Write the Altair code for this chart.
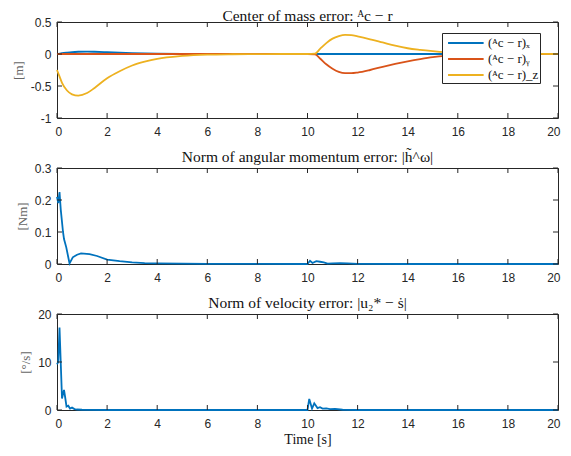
import altair as alt
import pandas as pd

# ---------------- data ----------------
t_com = [0, 0.1, 0.2, 0.4, 0.6, 0.85, 1.2, 1.5, 2, 2.5, 3, 3.5, 4, 5, 6, 7, 8, 9, 10,
         10.3, 10.5, 10.75, 11, 11.25, 11.5, 11.75, 12, 12.5, 13, 13.5, 14, 14.5, 15,
         15.5, 16, 17, 18, 19, 20]
com_x = [0, 0.005, 0.012, 0.022, 0.03, 0.035, 0.037, 0.035, 0.028, 0.02, 0.013, 0.008,
         0.005, 0.002, 0.001, 0, 0, 0, 0,
         0, 0, 0, 0, 0, 0, 0, 0, 0, 0, 0, 0, 0, 0,
         0, 0, 0, 0, 0, 0]
com_y = [0, 0, 0, 0, 0, 0, 0, 0, 0, 0, 0, 0, 0, 0, 0, 0, 0, 0, 0,
         -0.005, -0.07, -0.16, -0.23, -0.28, -0.30, -0.30, -0.29, -0.25, -0.20, -0.155,
         -0.115, -0.08, -0.05, -0.03, -0.02, -0.008, -0.003, -0.001, 0]
com_z = [-0.25, -0.35, -0.45, -0.57, -0.63, -0.65, -0.61, -0.53, -0.38, -0.27, -0.18,
         -0.12, -0.075, -0.03, -0.01, -0.004, -0.002, 0, 0,
         0.005, 0.08, 0.17, 0.24, 0.28, 0.30, 0.295, 0.275, 0.23, 0.18, 0.13, 0.09,
         0.065, 0.045, 0.028, 0.016, 0.006, 0.002, 0.001, 0]
com_names = ["(ᴬc − r)ₓ", "(ᴬc − r)ᵧ", "(ᴬc − r)_z"]
com_colors = ["#0072BD", "#D95319", "#EDB120"]

t_h = [0, 0.05, 0.1, 0.15, 0.24, 0.28, 0.37, 0.44, 0.5, 0.63, 0.8, 0.96, 1.3, 1.6, 2.0,
       2.5, 3, 3.5, 4, 5, 6, 8, 10, 10.1, 10.2, 10.35, 10.5, 10.65, 10.8, 11, 11.3, 11.6,
       12, 14, 16, 18, 20]
h_err = [0.21, 0.19, 0.225, 0.17, 0.1, 0.078, 0.052, 0.025, 0.002, 0.021, 0.029, 0.033,
         0.031, 0.025, 0.014, 0.009, 0.005, 0.003, 0.002, 0.001, 0.0005, 0.0002, 0,
         0.01, 0.003, 0.009, 0.007, 0.005, 0.001, 0.002, 0.003, 0.002, 0.0005, 0, 0, 0, 0]

t_v = [0, 0.05, 0.1, 0.2, 0.28, 0.33, 0.38, 0.45, 0.52, 0.6, 0.7, 0.8, 1.0, 2, 4, 6, 8,
       10, 10.07, 10.18, 10.27, 10.4, 10.5, 10.6, 10.75, 10.9, 11.1, 11.4, 12, 14, 16, 18, 20]
v_err = [9.5, 10, 17.2, 2.4, 4.2, 2.5, 0.7, 0.9, 0.3, 0.5, 0.2, 0.1, 0.05, 0, 0, 0, 0,
         0, 2.3, 0.3, 1.4, 0.4, 0.6, 0.3, 0.35, 0.2, 0.25, 0.05, 0, 0, 0, 0, 0]

x_ticks = [0, 2, 4, 6, 8, 10, 12, 14, 16, 18, 20]
y1_ticks = [-1, -0.5, 0, 0.5]
y2_ticks = [0, 0.1, 0.2, 0.3]
y3_ticks = [0, 10, 20]

titles = ["Center of mass error: ᴬc − r",
          "Norm of angular momentum error: |h̃^ω|",
          "Norm of velocity error: |u₂* − ṡ|"]
y_titles = ["[m]", "[Nm]", "[°/s]"]
x_title = "Time [s]"

# ---------------- styling ----------------
W, H = 501, 96
TL = 5
AX = "#262626"
SERIF = "Liberation Serif"
SANS = "Liberation Sans"

xscale = alt.Scale(domain=[0, 20], nice=False, zero=False)


def make_axes(yticks, ytitle, xt):
    xa = alt.Axis(values=x_ticks, tickSize=0, domain=False, grid=False, labelPadding=8,
                  labelFlush=True, labelFlushOffset=2, labelOverlap=False,
                  labelExpr="toString(datum.value)",
                  title=xt, titlePadding=3, titleFont=SERIF, titleFontSize=14,
                  titleFontWeight="normal", titleColor="#111111")
    ya = alt.Axis(values=yticks, tickSize=0, domain=False, grid=False, labelPadding=6,
                  labelFlush=False, labelOverlap=False,
                  labelExpr="toString(datum.value)", title=ytitle, titlePadding=5,
                  titleFont=SERIF, titleFontSize=13, titleFontWeight="normal",
                  titleColor="#666666")
    return xa, ya


def tick_layers(yscale, yticks, xa, ya):
    dx = pd.DataFrame({"t": x_ticks})
    dy = pd.DataFrame({"val": yticks})
    base_x = alt.Chart(dx).mark_rule(color=AX, strokeWidth=1)
    base_y = alt.Chart(dy).mark_rule(color=AX, strokeWidth=1)
    X = alt.X("t:Q", scale=xscale, axis=xa)
    Y = alt.Y("val:Q", scale=yscale, axis=ya)
    return [
        base_x.encode(x=X, y=alt.value(0), y2=alt.value(TL)),
        base_x.encode(x=X, y=alt.value(H), y2=alt.value(H - TL)),
        base_y.encode(y=Y, x=alt.value(0), x2=alt.value(TL)),
        base_y.encode(y=Y, x=alt.value(W), x2=alt.value(W - TL)),
    ]


def ptitle(text, off):
    return alt.TitleParams(text=text, font=SERIF, fontSize=15.5, fontWeight="normal",
                           color="#111111", offset=off, anchor="middle")


# panel 1
df1 = pd.DataFrame({
    "t": t_com * 3,
    "val": com_x + com_y + com_z,
    "series": [com_names[0]] * len(t_com) + [com_names[1]] * len(t_com) + [com_names[2]] * len(t_com),
})
ys1 = alt.Scale(domain=[-1, 0.5], nice=False, zero=False)
xa, ya = make_axes(y1_ticks, y_titles[0], None)
lines1 = alt.Chart(df1).mark_line(strokeWidth=1.8, interpolate="monotone").encode(
    x=alt.X("t:Q", scale=xscale, axis=xa),
    y=alt.Y("val:Q", scale=ys1, axis=ya),
    color=alt.Color("series:N", title=None,
                    scale=alt.Scale(domain=com_names, range=com_colors),
                    legend=alt.Legend(orient="none", legendX=385, legendY=11,
                                      symbolType="M-0.5,0H4", symbolStrokeWidth=2,
                                      symbolSize=250, labelOffset=27,
                                      labelFont=SERIF, labelFontSize=13,
                                      labelColor="#111111",
                                      fillColor="white", strokeColor=AX, padding=1,
                                      rowPadding=0)),
    order=alt.Order("t:Q"),
)
p1 = alt.layer(lines1, *tick_layers(ys1, y1_ticks, xa, ya)).properties(
    width=W, height=H, title=ptitle(titles[0], -8))

# panel 2
df2 = pd.DataFrame({"t": t_h, "val": h_err})
ys2 = alt.Scale(domain=[0, 0.3], nice=False)
xa, ya = make_axes(y2_ticks, y_titles[1], None)
lines2 = alt.Chart(df2).mark_line(strokeWidth=1.8, color=com_colors[0]).encode(
    x=alt.X("t:Q", scale=xscale, axis=xa),
    y=alt.Y("val:Q", scale=ys2, axis=ya),
)
p2 = alt.layer(lines2, *tick_layers(ys2, y2_ticks, xa, ya)).properties(
    width=W, height=H, title=ptitle(titles[1], -3))

# panel 3
df3 = pd.DataFrame({"t": t_v, "val": v_err})
ys3 = alt.Scale(domain=[0, 20], nice=False)
xa, ya = make_axes(y3_ticks, y_titles[2], x_title)
lines3 = alt.Chart(df3).mark_line(strokeWidth=1.8, color=com_colors[0]).encode(
    x=alt.X("t:Q", scale=xscale, axis=xa),
    y=alt.Y("val:Q", scale=ys3, axis=ya),
)
p3 = alt.layer(lines3, *tick_layers(ys3, y3_ticks, xa, ya)).properties(
    width=W, height=H, title=ptitle(titles[2], -3))

chart = alt.vconcat(p1, p2, p3, spacing=11).properties(
    padding={"left": 3, "top": 0, "right": 0, "bottom": 0}
).configure_view(
    stroke=AX, strokeWidth=1
).configure_axis(
    labelFont=SANS, labelFontSize=12, labelColor=AX,
    titleFont=SERIF, titleFontSize=13, titleFontWeight="normal", titleColor="#666666",
)

chart.save("out.html", embed_options={"renderer": "svg", "actions": False})
